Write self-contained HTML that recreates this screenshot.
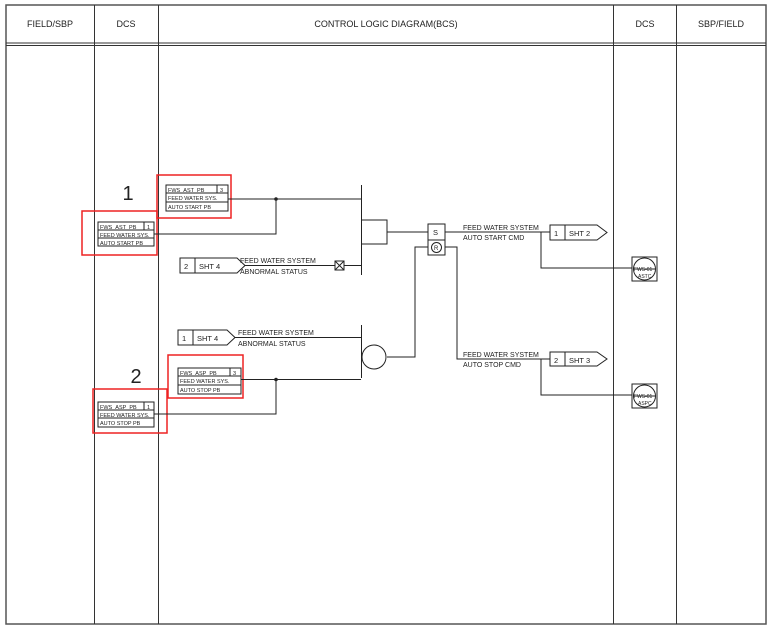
<!DOCTYPE html>
<html><head><meta charset="utf-8"><style>
html,body{margin:0;padding:0;background:#fff;width:773px;height:631px;overflow:hidden}
svg{display:block}
text{font-family:"Liberation Sans",sans-serif;fill:#222}
</style></head><body>
<svg width="773" height="631" viewBox="0 0 773 631" xmlns="http://www.w3.org/2000/svg">
<g stroke="#333" fill="none" stroke-width="1">
<rect x="6" y="5" width="760" height="619" stroke="#555" stroke-width="1.5"/>
<line x1="6" y1="43" x2="766" y2="43"/><line x1="6" y1="45.5" x2="766" y2="45.5"/>
<line x1="94.5" y1="5" x2="94.5" y2="624"/>
<line x1="158.5" y1="5" x2="158.5" y2="624"/>
<line x1="613.5" y1="5" x2="613.5" y2="624"/>
<line x1="676.5" y1="5" x2="676.5" y2="624"/>
</g>
<g font-size="9" text-anchor="middle">
<text x="50" y="27">FIELD/SBP</text><text x="126" y="27">DCS</text>
<text x="386" y="27">CONTROL LOGIC DIAGRAM(BCS)</text>
<text x="645" y="27">DCS</text><text x="721" y="27">SBP/FIELD</text>
</g>
<text x="128" y="200" font-size="20" text-anchor="middle">1</text>
<text x="136" y="383" font-size="20" text-anchor="middle">2</text>
<g stroke="#e22" stroke-width="1.5" fill="none">
<rect x="82" y="211" width="75" height="44"/>
<rect x="157" y="175" width="74" height="43"/>
<rect x="168" y="355" width="75" height="43"/>
<rect x="93" y="389" width="74" height="44"/>
</g>
<g stroke="#222" fill="none" stroke-width="1">
<!-- tag boxes -->
<rect x="98" y="222" width="56" height="24"/><line x1="98" y1="230" x2="154" y2="230"/><line x1="98" y1="238" x2="154" y2="238"/><line x1="144" y1="222" x2="144" y2="230"/>
<rect x="166" y="185" width="62" height="26"/><line x1="166" y1="193" x2="228" y2="193"/><line x1="166" y1="202" x2="228" y2="202"/><line x1="217" y1="185" x2="217" y2="193"/>
<rect x="178" y="368" width="63" height="26"/><line x1="178" y1="376" x2="241" y2="376"/><line x1="178" y1="385" x2="241" y2="385"/><line x1="230" y1="368" x2="230" y2="376"/>
<rect x="98" y="402" width="56" height="25"/><line x1="98" y1="410" x2="154" y2="410"/><line x1="98" y1="418" x2="154" y2="418"/><line x1="144" y1="402" x2="144" y2="410"/>
<!-- top logic -->
<polyline points="228,199 361,199"/><polyline points="154,234 276,234 276,199"/>
<line x1="361.5" y1="185" x2="361.5" y2="275"/>
<rect x="361.5" y="220" width="25.5" height="24"/>
<line x1="387" y1="232" x2="428" y2="232"/>
<rect x="428" y="224" width="17" height="16"/><rect x="428" y="240" width="17" height="15"/>
<circle cx="436.5" cy="247.5" r="5"/>
<polygon points="180,258 237,258 245,265.5 237,273 180,273"/><line x1="195" y1="258" x2="195" y2="273"/>
<line x1="245" y1="265.5" x2="335" y2="265.5"/>
<rect x="335" y="261" width="9" height="9"/><line x1="335" y1="261" x2="344" y2="270"/><line x1="344" y1="261" x2="335" y2="270"/>
<line x1="344" y1="265.5" x2="361" y2="265.5"/>
<line x1="445" y1="232" x2="550" y2="232"/>
<polygon points="550,225 597,225 607,232.5 597,240 550,240"/><line x1="565" y1="225" x2="565" y2="240"/>
<polyline points="541,232 541,268 632,268"/>
<polyline points="428,247 415,247 415,357 387,357"/>
<polyline points="445,247 457,247 457,359 550,359"/>
<!-- bottom logic -->
<line x1="361.5" y1="325" x2="361.5" y2="378"/>
<circle cx="374" cy="357" r="12"/>
<polygon points="178,330 227,330 235,337.5 227,345 178,345"/><line x1="193" y1="330" x2="193" y2="345"/>
<line x1="235" y1="337.5" x2="361" y2="337.5"/>
<line x1="241" y1="379.5" x2="361" y2="379.5"/>
<polyline points="154,414 276,414 276,379"/>
<polygon points="550,352 597,352 607,359 597,366 550,366"/><line x1="565" y1="352" x2="565" y2="366"/>
<polyline points="541,359 541,395 632,395"/>
<!-- icons -->
<rect x="632" y="257" width="25" height="24"/><circle cx="644.5" cy="269" r="11"/><line x1="633.5" y1="269" x2="655.5" y2="269"/>
<rect x="632" y="384" width="25" height="24"/><circle cx="644.5" cy="396" r="11"/><line x1="633.5" y1="396" x2="655.5" y2="396"/>
</g>
<circle cx="276" cy="199" r="1.8" fill="#222"/><circle cx="276" cy="379.5" r="1.8" fill="#222"/>
<g font-size="5.5">
<text x="100" y="229">FWS_AST_PB</text><text x="147" y="229">1</text><text x="100" y="237">FEED WATER SYS.</text><text x="100" y="245">AUTO START PB</text>
<text x="168" y="192">FWS_AST_PB</text><text x="220" y="192">3</text><text x="168" y="200">FEED WATER SYS.</text><text x="168" y="209">AUTO START PB</text>
<text x="180" y="375">FWS_ASP_PB</text><text x="233" y="375">3</text><text x="180" y="383">FEED WATER SYS.</text><text x="180" y="392">AUTO STOP PB</text>
<text x="100" y="409">FWS_ASP_PB</text><text x="147" y="409">1</text><text x="100" y="417">FEED WATER SYS.</text><text x="100" y="425">AUTO STOP PB</text>
<text x="634" y="271" font-size="5">FWS-01</text><text x="638" y="278" font-size="5">ASTC</text>
<text x="634" y="398" font-size="5">FWS-01</text><text x="638" y="405" font-size="5">ASPC</text>
</g>
<g font-size="7.5">
<text x="184" y="269">2</text><text x="199" y="269">SHT 4</text>
<text x="182" y="341">1</text><text x="197" y="341">SHT 4</text>
<text x="554" y="236">1</text><text x="569" y="236">SHT 2</text>
<text x="554" y="363">2</text><text x="569" y="363">SHT 3</text>
<text x="433" y="235">S</text><text x="434" y="250" font-size="6">R</text>
</g>
<g font-size="7">
<text x="240" y="263">FEED WATER SYSTEM</text><text x="240" y="274">ABNORMAL STATUS</text>
<text x="238" y="335">FEED WATER SYSTEM</text><text x="238" y="346">ABNORMAL STATUS</text>
<text x="463" y="230">FEED WATER SYSTEM</text><text x="463" y="240">AUTO START CMD</text>
<text x="463" y="357">FEED WATER SYSTEM</text><text x="463" y="367">AUTO STOP CMD</text>
</g>
</svg>
</body></html>
